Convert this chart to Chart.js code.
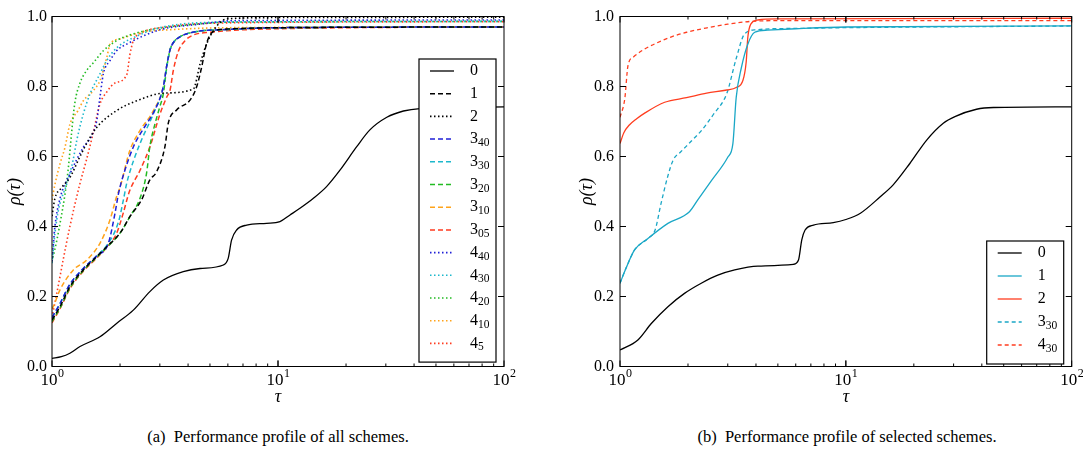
<!DOCTYPE html>
<html>
<head>
<meta charset="utf-8">
<script src="https://cdn.jsdelivr.net/npm/chart.js@4.4.1/dist/chart.umd.min.js"></script>
<style>
  body { margin: 0; background: #fff; width: 1083px; height: 450px; position: relative; overflow: hidden; font-family: "Liberation Serif", "Times New Roman", serif; }
  .wrap { position: absolute; top: 0; }
  .cap { position: absolute; top: 427px; font-size: 16.5px; color: #000; text-align: center; white-space: pre; }
</style>
</head>
<body>
<div class="wrap" style="left:0"><canvas id="chartA" width="541" height="412"></canvas></div>
<div class="wrap" style="left:572px"><canvas id="chartB" width="511" height="412"></canvas></div>
<div class="cap" style="left:78px;width:400px">(a)  Performance profile of all schemes.</div>
<div class="cap" style="left:647px;width:400px">(b)  Performance profile of selected schemes.</div>
<script>
// ---- panel (a): all schemes ----
const a0Tau = [1, 1.1, 1.2, 1.33, 1.63, 1.93, 2.29, 2.71, 3.11, 3.81, 4.52, 5.73, 6.02, 6.23, 6.56, 7.27, 8.9, 10.2, 11.3, 12.5, 14.3, 16.4, 18.8, 22.3, 25.5, 30.3, 35.9, 42.5, 100];
const a0Rho = [0.023, 0.028, 0.038, 0.057, 0.085, 0.123, 0.161, 0.214, 0.247, 0.271, 0.280, 0.290, 0.309, 0.361, 0.390, 0.404, 0.409, 0.414, 0.433, 0.452, 0.480, 0.514, 0.561, 0.628, 0.676, 0.712, 0.730, 0.737, 0.742];

const a1Tau = [1, 1.085, 1.2, 1.375, 1.577, 1.746, 2.0, 2.21, 2.49, 2.71, 2.9, 3.16, 3.27, 3.56, 4.08, 4.37, 4.6, 4.83, 5.17, 5.9, 10, 100];
const a1Rho = [0.133, 0.171, 0.228, 0.276, 0.314, 0.342, 0.381, 0.428, 0.476, 0.533, 0.556, 0.628, 0.695, 0.733, 0.761, 0.800, 0.857, 0.923, 0.957, 0.964, 0.968, 0.970];

const a2Tau = [1, 1.03, 1.1, 1.2, 1.33, 1.42, 1.577, 1.93, 2.37, 3.11, 4.22, 4.52, 4.83, 5.17, 5.92, 10, 100];
const a2Rho = [0.43, 0.48, 0.51, 0.54, 0.60, 0.636, 0.683, 0.731, 0.759, 0.781, 0.793, 0.864, 0.921, 0.959, 0.993, 0.997, 0.998];

const a3Tau = [1, 1.085, 1.2, 1.375, 1.577, 1.775, 1.9, 1.97, 2.1, 2.3, 2.6, 2.81, 3.11, 3.22, 3.33, 3.44, 3.68, 4.37, 6, 10, 100];
const a3Rho = [0.14, 0.18, 0.235, 0.28, 0.316, 0.352, 0.438, 0.495, 0.56, 0.63, 0.69, 0.725, 0.80, 0.86, 0.905, 0.925, 0.942, 0.957, 0.963, 0.968, 0.970];

const a4Tau = [1, 1.085, 1.2, 1.375, 1.577, 1.775, 1.97, 2.07, 2.14, 2.3, 2.5, 2.8, 3.11, 3.22, 3.33, 3.44, 3.68, 4.37, 6, 10, 100];
const a4Rho = [0.14, 0.18, 0.235, 0.28, 0.316, 0.352, 0.414, 0.476, 0.523, 0.59, 0.65, 0.72, 0.80, 0.86, 0.905, 0.925, 0.942, 0.957, 0.963, 0.968, 0.970];

const a5Tau = [1, 1.085, 1.2, 1.375, 1.577, 1.746, 2.0, 2.21, 2.45, 2.62, 2.71, 2.86, 3.0, 3.11, 3.22, 3.33, 3.44, 3.68, 4.37, 6, 10, 100];
const a5Rho = [0.128, 0.167, 0.224, 0.274, 0.312, 0.34, 0.381, 0.428, 0.48, 0.552, 0.628, 0.695, 0.742, 0.78, 0.855, 0.905, 0.925, 0.942, 0.957, 0.963, 0.968, 0.970];

const a6Tau = [1, 1.013, 1.085, 1.243, 1.424, 1.63, 1.806, 1.93, 2.0, 2.21, 2.45, 2.81, 3.11, 3.22, 3.33, 3.44, 3.68, 4.37, 6, 10, 100];
const a6Rho = [0.165, 0.171, 0.219, 0.276, 0.304, 0.352, 0.419, 0.485, 0.512, 0.617, 0.674, 0.731, 0.80, 0.86, 0.905, 0.925, 0.942, 0.957, 0.963, 0.968, 0.970];

const a7Tau = [1, 1.085, 1.2, 1.375, 1.577, 1.746, 1.93, 2.07, 2.2, 2.45, 2.72, 3.0, 3.22, 3.33, 3.44, 3.62, 3.88, 4.22, 5, 10, 100];
const a7Rho = [0.125, 0.165, 0.222, 0.272, 0.31, 0.34, 0.38, 0.44, 0.5, 0.56, 0.63, 0.72, 0.77, 0.79, 0.845, 0.9, 0.931, 0.947, 0.955, 0.965, 0.970];

const a8Tau = [1, 1.03, 1.085, 1.2, 1.375, 1.5, 1.577, 1.63, 1.687, 1.806, 1.93, 2.14, 3.0, 4.5, 6.3, 100];
const a8Rho = [0.30, 0.40, 0.48, 0.55, 0.626, 0.66, 0.702, 0.769, 0.836, 0.874, 0.902, 0.921, 0.962, 0.978, 0.988, 0.990];

const a9Tau = [1, 1.03, 1.07, 1.16, 1.24, 1.286, 1.375, 1.473, 1.63, 1.746, 1.93, 2.3, 3.2, 6.3, 100];
const a9Rho = [0.295, 0.38, 0.45, 0.52, 0.59, 0.645, 0.721, 0.779, 0.836, 0.874, 0.91, 0.94, 0.972, 0.984, 0.986];

const a10Tau = [1, 1.05, 1.1, 1.14, 1.18, 1.22, 1.26, 1.33, 1.42, 1.52, 1.687, 1.93, 2.21, 2.71, 4, 6.3, 100];
const a10Rho = [0.30, 0.36, 0.43, 0.49, 0.565, 0.665, 0.75, 0.81, 0.845, 0.867, 0.902, 0.931, 0.947, 0.962, 0.976, 0.984, 0.986];

const a11Tau = [1, 1.031, 1.085, 1.141, 1.201, 1.3, 1.375, 1.523, 1.63, 1.75, 1.806, 2.0, 2.5, 3.5, 6, 100];
const a11Rho = [0.476, 0.521, 0.579, 0.626, 0.693, 0.73, 0.759, 0.788, 0.817, 0.885, 0.921, 0.936, 0.955, 0.963, 0.968, 0.970];

const a12Tau = [1, 1.05, 1.12, 1.2, 1.33, 1.42, 1.52, 1.63, 1.75, 1.9, 2.14, 2.21, 2.29, 2.45, 3.2, 6.3, 100];
const a12Rho = [0.14, 0.209, 0.304, 0.40, 0.523, 0.59, 0.666, 0.75, 0.785, 0.81, 0.833, 0.89, 0.931, 0.951, 0.97, 0.982, 0.985];

const aNames = ['0', '1', '2', '3', '3', '3', '3', '3', '4', '4', '4', '4', '4'];
const aSubs = ['', '', '', '40', '30', '20', '10', '05', '40', '30', '20', '10', '5'];

// ---- panel (b): selected schemes ----
const b0Tau = [1, 1.2, 1.376, 1.63, 1.93, 2.29, 2.71, 3.22, 4.08, 5.86, 6.17, 6.38, 6.6, 7.19, 8.8, 10, 11.6, 14.2, 16.2, 19.2, 22.8, 27, 30.4, 37.9, 45, 100];
const b0Rho = [0.047, 0.076, 0.123, 0.171, 0.209, 0.238, 0.261, 0.276, 0.287, 0.292, 0.304, 0.362, 0.39, 0.404, 0.411, 0.42, 0.438, 0.485, 0.519, 0.58, 0.647, 0.695, 0.714, 0.735, 0.74, 0.742];

const b1Tau = [1, 1.07, 1.16, 1.33, 1.63, 2.03, 2.21, 2.54, 3.0, 3.16, 3.27, 3.45, 3.68, 3.95, 4.5, 6, 10, 100];
const b1Rho = [0.238, 0.285, 0.333, 0.366, 0.409, 0.442, 0.476, 0.531, 0.598, 0.636, 0.769, 0.855, 0.921, 0.955, 0.961, 0.965, 0.970, 0.973];

const b2Tau = [1, 1.04, 1.1, 1.185, 1.286, 1.577, 1.97, 2.42, 2.97, 3.27, 3.5, 3.62, 3.68, 3.8, 4.08, 5, 100];
const b2Rho = [0.637, 0.668, 0.69, 0.708, 0.724, 0.755, 0.768, 0.781, 0.790, 0.797, 0.817, 0.870, 0.94, 0.979, 0.990, 0.993, 0.995];

const b3Tau = [1, 1.07, 1.16, 1.33, 1.43, 1.52, 1.63, 1.72, 1.85, 2.04, 2.3, 2.59, 2.97, 3.27, 3.56, 4.0, 6, 100];
const b3Rho = [0.238, 0.285, 0.333, 0.366, 0.39, 0.466, 0.545, 0.59, 0.612, 0.64, 0.675, 0.72, 0.78, 0.88, 0.95, 0.962, 0.966, 0.973];

const b4Tau = [1, 1.05, 1.085, 1.15, 1.27, 1.45, 1.69, 1.97, 2.4, 3.0, 3.8, 5, 100];
const b4Rho = [0.712, 0.765, 0.86, 0.885, 0.905, 0.924, 0.942, 0.955, 0.967, 0.978, 0.986, 0.988, 0.988];

const bNames = ['0', '1', '2', '3', '4'];
const bSubs = ['', '', '', '30', '30'];

// styles
const BLACK = '#000000', BLUE = '#1f1fd6', CYAN = '#1cb8cc', GREEN = '#22bb22', ORANGE = '#ffa31a', RED = '#ff3b1f';
const SOLID = [], DASH = [5, 3], DOT = [1.5, 2.5];
const SERIF = '"Liberation Serif", "Times New Roman", serif';

function pts(tau, rho) {
  return tau.map((t, i) => ({ x: t, y: rho[i] }));
}

function series(tau, rho, name, sub, color, dash, width) {
  return {
    data: pts(tau, rho),
    name: name, sub: sub,
    borderColor: color,
    borderDash: dash,
    borderWidth: width,
    pointRadius: 0,
    fill: false,
    cubicInterpolationMode: 'monotone'
  };
}

const aSets = [
  series(a0Tau, a0Rho, aNames[0], aSubs[0], BLACK, SOLID, 1.3),
  series(a1Tau, a1Rho, aNames[1], aSubs[1], BLACK, DASH, 1.5),
  series(a2Tau, a2Rho, aNames[2], aSubs[2], BLACK, DOT, 1.6),
  series(a3Tau, a3Rho, aNames[3], aSubs[3], BLUE, DASH, 1.5),
  series(a4Tau, a4Rho, aNames[4], aSubs[4], CYAN, DASH, 1.5),
  series(a5Tau, a5Rho, aNames[5], aSubs[5], GREEN, DASH, 1.5),
  series(a6Tau, a6Rho, aNames[6], aSubs[6], ORANGE, DASH, 1.5),
  series(a7Tau, a7Rho, aNames[7], aSubs[7], RED, DASH, 1.5),
  series(a8Tau, a8Rho, aNames[8], aSubs[8], BLUE, DOT, 1.6),
  series(a9Tau, a9Rho, aNames[9], aSubs[9], CYAN, DOT, 1.6),
  series(a10Tau, a10Rho, aNames[10], aSubs[10], GREEN, DOT, 1.6),
  series(a11Tau, a11Rho, aNames[11], aSubs[11], ORANGE, DOT, 1.6),
  series(a12Tau, a12Rho, aNames[12], aSubs[12], RED, DOT, 1.6)
];

const bSets = [
  series(b0Tau, b0Rho, bNames[0], bSubs[0], BLACK, SOLID, 1.3),
  series(b1Tau, b1Rho, bNames[1], bSubs[1], '#1aa7c6', SOLID, 1.3),
  series(b2Tau, b2Rho, bNames[2], bSubs[2], '#ff3d1f', SOLID, 1.3),
  series(b3Tau, b3Rho, bNames[3], bSubs[3], '#1aa7c6', [4, 3], 1.3),
  series(b4Tau, b4Rho, bNames[4], bSubs[4], '#ff3d1f', [4, 3], 1.3)
];

// frame, inward ticks, 10^n labels and legend with subscripts
const decor = {
  id: 'decor',
  afterDatasetsDraw(chart, args, opts) {
    const ctx = chart.ctx, ca = chart.chartArea;
    const xs = chart.scales.x, ys = chart.scales.y;
    ctx.save();
    ctx.strokeStyle = '#000';
    ctx.lineWidth = 1;
    ctx.setLineDash([]);
    ctx.strokeRect(ca.left, ca.top, ca.right - ca.left, ca.bottom - ca.top);
    ctx.beginPath();
    for (let v = 0; v <= 1.0001; v += 0.2) {
      const y = ys.getPixelForValue(v);
      ctx.moveTo(ca.left, y); ctx.lineTo(ca.left + 6, y);
      ctx.moveTo(ca.right, y); ctx.lineTo(ca.right - 6, y);
    }
    [1, 10].forEach(d => {
      for (let k = 1; k <= 10; k++) {
        const x = xs.getPixelForValue(d * k);
        const len = (k === 1 || k === 10) ? 6 : 3;
        ctx.moveTo(x, ca.bottom); ctx.lineTo(x, ca.bottom - len);
        ctx.moveTo(x, ca.top); ctx.lineTo(x, ca.top + len);
      }
    });
    ctx.stroke();

    // x tick labels as 10 with superscript exponent
    ctx.fillStyle = '#000';
    ctx.textBaseline = 'alphabetic';
    [0, 1, 2].forEach(e => {
      const x = xs.getPixelForValue(Math.pow(10, e));
      ctx.font = '17px ' + SERIF;
      const w1 = ctx.measureText('10').width;
      ctx.font = '12px ' + SERIF;
      const w2 = ctx.measureText(String(e)).width;
      const x0 = x - (w1 + w2) / 2;
      ctx.font = '17px ' + SERIF;
      ctx.fillText('10', x0, ca.bottom + 18);
      ctx.font = '12px ' + SERIF;
      ctx.fillText(String(e), x0 + w1 + 0.5, ca.bottom + 10.5);
    });

    // legend
    const sets = chart.data.datasets;
    const bx = ca.right - 85, by = opts.top, bw = 77, step = opts.step;
    const bh = sets.length * step + 8;
    ctx.fillStyle = '#fff';
    ctx.fillRect(bx, by, bw, bh);
    ctx.lineWidth = 1.2;
    ctx.strokeRect(bx, by, bw, bh);
    sets.forEach((s, i) => {
      const y = by + 12 + i * step;
      ctx.beginPath();
      ctx.strokeStyle = s.borderColor;
      ctx.lineWidth = s.borderWidth;
      ctx.setLineDash(s.borderDash);
      ctx.moveTo(bx + 11, y); ctx.lineTo(bx + 35, y);
      ctx.stroke();
      ctx.setLineDash([]);
      ctx.fillStyle = '#000';
      ctx.textBaseline = 'middle';
      ctx.font = '16px ' + SERIF;
      ctx.fillText(s.name, bx + 51, y);
      if (s.sub) {
        const w = ctx.measureText(s.name).width;
        ctx.font = '11.5px ' + SERIF;
        ctx.fillText(s.sub, bx + 51 + w, y + 4);
      }
    });
    ctx.restore();
  }
};

function makeChart(id, sets, rightPad, yWidth, legendTop, legendStep, tickPad) {
  return new Chart(document.getElementById(id), {
    type: 'line',
    data: { datasets: sets },
    plugins: [decor],
    options: {
      responsive: false,
      animation: false,
      layout: { padding: { left: 0, top: 16.5, right: rightPad, bottom: 0 } },
      plugins: {
        legend: { display: false },
        tooltip: { enabled: false },
        decor: { top: legendTop, step: legendStep }
      },
      scales: {
        x: {
          type: 'logarithmic', min: 1, max: 100,
          grid: { display: false, drawTicks: false },
          border: { display: false },
          ticks: { display: false },
          title: { display: true, text: 'τ', color: '#000', font: { family: SERIF, size: 18, style: 'italic' } },
          afterFit: s => { s.height = 45.5; }
        },
        y: {
          type: 'linear', min: 0, max: 1,
          grid: { display: false, drawTicks: false },
          border: { display: false },
          ticks: { stepSize: 0.2, padding: tickPad, color: '#000', font: { family: SERIF, size: 16 }, callback: v => v.toFixed(1) },
          title: { display: true, text: 'ρ(τ)', color: '#000', font: { family: SERIF, size: 18, style: 'italic' } },
          afterFit: s => { s.width = yWidth; }
        }
      }
    }
  });
}

function drawAll() {
  makeChart('chartA', aSets, 37, 52, 59, 22.7, 5);
  makeChart('chartB', bSets, 11.3, 48, 241, 23, 6);
}

Promise.all([
  document.fonts.load('16px "Liberation Serif"'),
  document.fonts.load('italic 18px "Liberation Serif"')
]).then(drawAll, drawAll);
</script>
</body>
</html>
